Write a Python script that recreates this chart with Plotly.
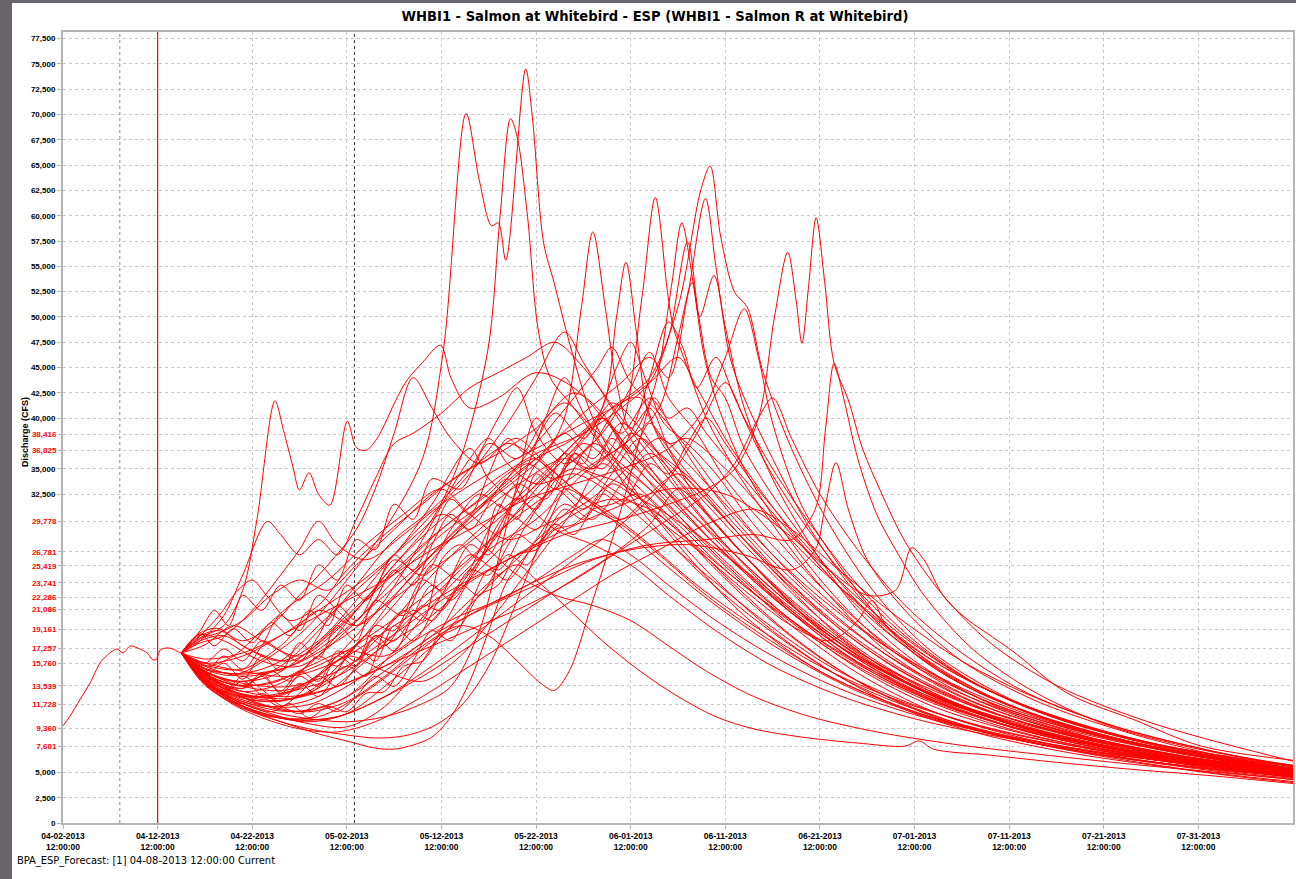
import pandas as pd
import plotly.graph_objects as go

# ---------------- data (day offsets from 2013-04-02 12:00, discharge in CFS) ----------------
BASE_TIME = "2013-04-02 12:00"

OBS_DAYS = [0.0, 0.7, 1.8, 2.9, 3.9, 4.7, 5.7, 6.35, 7.1, 8.1, 8.9, 9.4, 9.8, 10.3, 11.0, 11.6, 12.2, 12.5]
OBS_CFS = [9600, 10500, 12200, 13900, 15800, 16600, 17200, 16800, 17500, 17200, 16800, 16200, 16100, 17100, 17300, 17200, 16900, 16800]

ESP_01 = [(12.5,16800),(15,15200),(18,14600),(22,16500),(26,19500),(30,24000),(34,29000),(38,36000),(40.2,46700),(42.6,70100),(44,63500),(45.3,59000),(46,59300),(46.8,55600),(48.9,74500),(49.6,69800),(50.8,57300),(51.9,53400),(53.6,47200),(56,40000),(60,33500),(65,27500),(72,20500),(80,15000),(90,11000),(100,8400),(110,6700),(120,5500),(130,4600)]
ESP_02 = [(12.5,16800),(15,14500),(19,13000),(23,13800),(27,16500),(31,21000),(35,25500),(39,30000),(42,36000),(44.9,46700),(46.2,60000),(47.3,69600),(48,67800),(49.1,59900),(50.2,48900),(51.5,44000),(54,41000),(57,37000),(61,31000),(67,25000),(74,19500),(83,14000),(93,10300),(103,8000),(115,6300),(130,4900)]
ESP_03 = [(12.5,16800),(15,14800),(19,12600),(24,12200),(29,14500),(34,19000),(39,24500),(44,29000),(49,33000),(54,37500),(58,41000),(62,44000),(65,51000),(67.4,62500),(68.4,64900),(69.5,58000),(71,52400),(72.3,51000),(74,44500),(77,37000),(81,29500),(86,22500),(92,16800),(100,12300),(110,9000),(120,7000),(130,5600)]
ESP_04 = [(12.5,16800),(14.5,18600),(17,18000),(21,16000),(25,15500),(30,19000),(35,24000),(40,28500),(45,32000),(50,36000),(55,40500),(59,43500),(62,46000),(64,44000),(66,52000),(67.9,61700),(69,55000),(70.5,46000),(72,42000),(75,36000),(79,29000),(84,22500),(90,17000),(98,12500),(108,9000),(118,6900),(130,5300)]
ESP_05 = [(12.5,16800),(16,14200),(20,12000),(25,11000),(30,12500),(35,17000),(40,22500),(45,27000),(50,30000),(55,34500),(60,38000),(63,41000),(65,48000),(66.5,53400),(67.3,50000),(68.8,54100),(70,49000),(72,41000),(75,34000),(79,27500),(84,21000),(90,16000),(98,11800),(108,8600),(118,6600),(130,5100)]
ESP_06 = [(12.5,16800),(15,15500),(19,14500),(24,15500),(29,18500),(34,22500),(39,26500),(44,30500),(49,34000),(53,36000),(56,35000),(59,39000),(61.2,52000),(62.6,61800),(63.9,52400),(64.5,49000),(66,45000),(68,40000),(71,35000),(75,29500),(80,23500),(87,17000),(95,12500),(105,9200),(117,6800),(130,5200)]
ESP_07 = [(12.5,16800),(15,14000),(18,12300),(22,11500),(27,12500),(32,16000),(37,20500),(42,25000),(47,29500),(52,33000),(56,35500),(60,38000),(62.5,43000),(64.3,53000),(65.4,59300),(66.5,54000),(67.8,46000),(69.5,40500),(72,35000),(76,29000),(81,23000),(87,17500),(95,12800),(105,9300),(117,6800),(130,5200)]
ESP_08 = [(12.5,16800),(15,17600),(18,19500),(21,18000),(25,16500),(30,20000),(35,25500),(40,30000),(45,33500),(50,36500),(55,38500),(59,41000),(62,43500),(64,48000),(66,57400),(67.2,50000),(68.5,44000),(70,42000),(72,37000),(76,31000),(81,25000),(87,19000),(94,14200),(104,10200),(116,7400),(130,5600)]
ESP_09 = [(12.5,16800),(15,15000),(19,13500),(24,13200),(29,16000),(34,20500),(39,26000),(44,31000),(48,34000),(51,36500),(53,40000),(54.8,51000),(56,58400),(57.3,51000),(58.5,43500),(60,39000),(62,41000),(64,37000),(67,32000),(71,27500),(76,22500),(82,17500),(90,13000),(100,9500),(112,7000),(130,4900)]
ESP_10 = [(12.5,16800),(15,14300),(18,12600),(22,12000),(26,13000),(31,17500),(36,23500),(41,28500),(46,33000),(50,36000),(54,38000),(57,41000),(58.5,50000),(59.5,55400),(60.6,48500),(62,40000),(64,37000),(67,33500),(71,29000),(76,24000),(82,18500),(90,13500),(100,9800),(112,7200),(130,5000)]
ESP_11 = [(12.5,16800),(15,15800),(19,15000),(24,14500),(29,16000),(35,19500),(41,23000),(47,26000),(53,28500),(59,30000),(64,31500),(68,33000),(71,35000),(73.5,40000),(75.2,50000),(76.6,56400),(77.5,51500),(78.1,47400),(78.8,53000),(79.6,59800),(80.5,53500),(81.5,45400),(83,41800),(84.5,37000),(86.5,32600),(89,27800),(93,22500),(98,17800),(105,13600),(115,9900),(130,6100)]
ESP_12 = [(12.5,16800),(15,14000),(19,12000),(24,11000),(29,12000),(34,15000),(39,18500),(44,21000),(50,23500),(56,26000),(62,27500),(68,28000),(73,28500),(77,28000),(79.5,31000),(80.6,39000),(81.5,45400),(82.5,42000),(84,36000),(86,30500),(88,27000),(91,22500),(96,17300),(102,13300),(110,9800),(120,7300),(130,5700)]
ESP_13 = [(12.5,16800),(15,13800),(18,11800),(22,10500),(27,10500),(32,13000),(37,16500),(42,20000),(48,23000),(54,25500),(60,27000),(66,27500),(72,26500),(77,25000),(79.5,27000),(80.5,31000),(81.7,35600),(83,31000),(85,26000),(89,21000),(95,16000),(103,12000),(113,8800),(122,6700),(130,5400)]
ESP_14 = [(12.5,16800),(15,16200),(19,16800),(24,19000),(29,21500),(34,24000),(39,27000),(44,29500),(49,32000),(54,33500),(59,35000),(64,37000),(67.5,40500),(70,46000),(72,50800),(73.5,46000),(75,39500),(78,31500),(82,25500),(87,19500),(94,14300),(103,10600),(115,7600),(130,5300)]
ESP_15 = [(12.5,16800),(15,15000),(19,13800),(24,13500),(29,15000),(34,18000),(40,22000),(46,25500),(52,28500),(58,31000),(64,33000),(70,32500),(76,29000),(81,25000),(85,22500),(88,23000),(89.7,27200),(91,26000),(93,22500),(95.2,20400),(100.2,17100),(106.2,12800),(113.2,10200),(120.3,7600),(130,6200)]
ESP_16 = [(12.5,16800),(14.5,18300),(17,19500),(19,23000),(20.5,30000),(22.4,41700),(23.3,38800),(24.3,35200),(25,32900),(26,34600),(27,32500),(28.2,31400),(30.05,39700),(31,37100),(32,36800),(33.2,38000),(35.3,42000),(36.4,43800),(38,45500),(39.9,47200),(41,44000),(43,41000),(46,42000),(50,44500),(54,43000),(58,39000),(63,33500),(69,27500),(76,21500),(85,15800),(95,11600),(107,8500),(119,6400),(130,5000)]
ESP_17 = [(12.5,16800),(14.5,18000),(17,20500),(19,24500),(21.6,29800),(23,28500),(25,26500),(27,28000),(29,26500),(31,30000),(33,34000),(35,37500),(37,38500),(40,40500),(43,43000),(46,44500),(49,46000),(52,47500),(55,45000),(59,40000),(64,34000),(70,27500),(77,21500),(86,15800),(96,11600),(108,8400),(120,6300),(130,5000)]
ESP_18 = [(12.5,16800),(15,14200),(18,12200),(22,10800),(26,9800),(30,9500),(34,11500),(38,16000),(42,22500),(46,29000),(49,35000),(51,40000),(53,44000),(55,40500),(58,36000),(62,33000),(66,29500),(71,25000),(77,20000),(84,15300),(92,11500),(102,8700),(114,6600),(130,4800)]
ESP_19 = [(12.5,16800),(15,15600),(19,15200),(23,17500),(27,21000),(31,19500),(35,22500),(40,27500),(45,32000),(50,37500),(54,42000),(56.5,45000),(58,47000),(60,43500),(63,40500),(66,37000),(70,32000),(75,26500),(81,21000),(88,16000),(96,12000),(106,9000),(118,6700),(130,5100)]
ESP_20 = [(12.5,16800),(15,13900),(19,12500),(24,13000),(29,14500),(34,17500),(39,20500),(44,25000),(49,30000),(53,35000),(57,38500),(60,43000),(62,46500),(64,42000),(67,38500),(70,34000),(75,28500),(81,22500),(88,17000),(96,12700),(106,9400),(118,6900),(130,5200)]
ESP_21 = [(12.5,16800),(14.5,18800),(16.5,19200),(19,17500),(23,16000),(27,18000),(31,22000),(35,26500),(39,30500),(43,34500),(47,39500),(50,44000),(53,48500),(55,45500),(58,41000),(61,36500),(65,31500),(70,26500),(76,21500),(83,16500),(91,12500),(101,9300),(113,7000),(130,5000)]
ESP_22 = [(12.5,16800),(15,15000),(19,14000),(23,15500),(27,19000),(31,23500),(35,28000),(39,31000),(43,35000),(46,40000),(48,43000),(50,38500),(53,35500),(56,37500),(59,41500),(61,42000),(63,38000),(66,34000),(70,30000),(75,25000),(81,20000),(88,15300),(96,11600),(106,8800),(118,6600),(130,4900)]
ESP_23 = [(12.5,16800),(15,14500),(18,13000),(22,12500),(26,14000),(30,17500),(34,22000),(38,28000),(41,33000),(43,36000),(45,38000),(47,35500),(50,33500),(54,34500),(58,32500),(63,28500),(68,24500),(74,20000),(81,15500),(89,12000),(98,9300),(108,7400),(119,5800),(130,4600)]
ESP_24 = [(12.5,16800),(15,14400),(18,12800),(22,11500),(26,11000),(30,12000),(34,14500),(38,17500),(42,19500),(45,18500),(48,16000),(50.5,13800),(51.9,13100),(53.5,15000),(56,22000),(59,31000),(61,38000),(62.5,42000),(64,39500),(67,35000),(71,30000),(76,25000),(82,20000),(89,15500),(97,12000),(107,9000),(119,6700),(130,5200)]
ESP_25 = [(12.5,16800),(15,14000),(18,12000),(21,10700),(24,9700),(27,8800),(30,8100),(33,7400),(35,7300),(37,7700),(39,8500),(41,10500),(43,14000),(45,19000),(47,24000),(50,27500),(54,30500),(58,32000),(62,31000),(66,28000),(71,23500),(77,18500),(84,14000),(92,10500),(101,8200),(112,6400),(122,5100),(130,4300)]
ESP_26 = [(12.5,16800),(15,13800),(18,11800),(22,10300),(26,9300),(30,8700),(33,8400),(36,8600),(39,9500),(42,11500),(45,15500),(48,22000),(51,29000),(54,35000),(56,37500),(59,35500),(62,33000),(66,29000),(71,24500),(77,19500),(84,14800),(92,11000),(101,8500),(112,6500),(122,5200),(130,4400)]
ESP_27 = [(12.5,16800),(15,14500),(19,13000),(24,12500),(29,13500),(34,15500),(39,18500),(43,22000),(46,24500),(48,25500),(50,24000),(53,21500),(57,18000),(61,15000),(65,12500),(69,10500),(73,9300),(78,8500),(84,7900),(89,7600),(90.5,8100),(92,7300),(98,6700),(105,6000),(113,5300),(121,4700),(130,3900)]
ESP_28 = [(12.5,16800),(15,15800),(19,16500),(23,18500),(27,21000),(31,23500),(35,26500),(38,29000),(40,30500),(42,29500),(45,27000),(48,24500),(52,22500),(56,21500),(60,20000),(64,17500),(68,15000),(73,12500),(79,10500),(86,9000),(94,7800),(103,6800),(113,5800),(122,5000),(130,4300)]
ESP_29 = [(12.5,16800),(15,14200),(18,12700),(22,12000),(26,12800),(30,15500),(32,14500),(34,19000),(36,21000),(38,20000),(40,26000),(42,27500),(44,26000),(46,31500),(48,30000),(50,34500),(52,33000),(54,36500),(56,35000),(58,38000),(60,36500),(62,39500),(64,37500),(66,38000),(70,35000),(74,31000),(79,26000),(85,21000),(92,16000),(100,12200),(110,9100),(120,6900),(130,5300)]
ESP_30 = [(12.5,16800),(15,13600),(19,11500),(24,10200),(29,10500),(34,12500),(39,15500),(44,19000),(49,22500),(54,26000),(59,29500),(64,34000),(67,38500),(70,43500),(72,40000),(75,35000),(79,29500),(84,23500),(90,18000),(97,13500),(106,10000),(117,7400),(130,5400)]
ESP_31 = [(12.5,16800),(15,14800),(18,13700),(22,13800),(26,15500),(30,17000),(34,16500),(38,19000),(42,23500),(46,28500),(50,33000),(54,37000),(57,40000),(59,37500),(62,35000),(66,31000),(71,26500),(77,21500),(84,16500),(92,12500),(101,9500),(112,7100),(122,5700),(130,4700)]
ESP_32 = [(12.5,16800),(14.5,18000),(17,18500),(20,17000),(24,16000),(28,18500),(32,22000),(36,25500),(40,29000),(44,32000),(47,34500),(50,36000),(52,34000),(55,31500),(59,29500),(63,26500),(68,22500),(74,18500),(81,14500),(89,11300),(98,8900),(108,7000),(119,5600),(130,4600)]
ESP_33 = [(12.5,16800),(15,13900),(18,12000),(21,10900),(25,10200),(29,10500),(33,12000),(38,14500),(43,17500),(48,20500),(53,23500),(58,26500),(62,29500),(65,33000),(67,31500),(70,28500),(74,24500),(79,20000),(85,16000),(92,12500),(100,9800),(110,7500),(120,5800),(130,4500)]
ESP_34 = [(12.5,16800),(14.5,18500),(16.5,19000),(19,18000),(22,19500),(25,22500),(28,25500),(31,29000),(33,33000),(35,38500),(37,44000),(39,41000),(41,38000),(44,35500),(47,37500),(50,36000),(54,33000),(58,30000),(63,26000),(69,21500),(76,17000),(84,13000),(93,10000),(103,7800),(115,6000),(130,4600)]
ESP_35 = [(12.5,16800),(15,15200),(19,14800),(23,16000),(27,19500),(31,23000),(35,26500),(39,31500),(43,37000),(45,34000),(48,32000),(51,34500),(54,37500),(57,40000),(60,36500),(63,33500),(67,30000),(72,25000),(78,20000),(85,15200),(93,11600),(103,8900),(115,6700),(130,5000)]
ESP_36 = [(12.5,16800),(15,14600),(19,13300),(21,14500),(23,13000),(25,15000),(27,14000),(29,17000),(31,16000),(33,19500),(35,19000),(38,24000),(40,23000),(43,27500),(45,26500),(48,32000),(50,31000),(53,36500),(55,35500),(57,40000),(59,38500),(62,42000),(64,40000),(66,41000),(68,38500),(72,34000),(77,28500),(83,22500),(90,17200),(98,13000),(108,9600),(119,7100),(130,5400)]
ESP_37 = [(12.5,16800),(14.5,18200),(16.5,18800),(19,20000),(22,22500),(25,24000),(28,23000),(31,25500),(35,29000),(39,32500),(43,35000),(46,37000),(48,38000),(51,35500),(54,33000),(58,30500),(62,27500),(67,23500),(73,19500),(80,15500),(88,12200),(97,9600),(107,7600),(118,6000),(130,4700)]
ESP_38 = [(12.5,16800),(15,14000),(18,12000),(22,10600),(26,10000),(30,10800),(34,13500),(39,17500),(44,22500),(49,27000),(53,30500),(57,34000),(60,38500),(62,44000),(64,49500),(65.5,47000),(67,43000),(69,46000),(71,42000),(74,36000),(78,30000),(83,24000),(89,18500),(96,14000),(105,10400),(116,7700),(130,5700)]
ESP_39 = [(12.5,16800),(15,15300),(19,14700),(24,15500),(29,18000),(34,21500),(39,25000),(44,28500),(49,32500),(53,36000),(56,39000),(58.5,45000),(60,47500),(61.5,44000),(63.5,39500),(66,37500),(69,34500),(73,29500),(78,24500),(84,19500),(91,15000),(99,11500),(109,8700),(120,6600),(130,5200)]
ESP_40 = [(12.5,16800),(15,14700),(19,13600),(22,15000),(24,14000),(27,16500),(29,15500),(32,18500),(34,17500),(37,21000),(39,20000),(42,23500),(44,22500),(47,26500),(49,25500),(52,29500),(54,28500),(57,32500),(59,31500),(62,35500),(64,34500),(66,37500),(68,40000),(70,37500),(73,33500),(77,29000),(82,24000),(88,19000),(95,14500),(103,11000),(113,8200),(122,6400),(130,5200)]
ESP_41 = [(12.5,16800),(15,14900),(18,14000),(22,14500),(26,17000),(30,20500),(34,24000),(38,27500),(42,30500),(45,32500),(47,34000),(49,31500),(52,29000),(56,27500),(60,25500),(64,22500),(69,19000),(75,15500),(82,12600),(90,10300),(99,8500),(109,7000),(120,5700),(130,4700)]
ESP_42 = [(12.5,16800),(15,15500),(18,16500),(21,19000),(24,21500),(28,24000),(32,27500),(36,30500),(40,33000),(43,30500),(47,28000),(51,29500),(55,31500),(59,34500),(63,38000),(66,35500),(70,31500),(75,26500),(81,21500),(88,16800),(96,12900),(105,9800),(116,7300),(130,5300)]
ESP_43 = [(12.5,16800),(15,13700),(18,11700),(21,10400),(25,9300),(29,9000),(33,10000),(38,12500),(43,15500),(48,18500),(53,21500),(58,24500),(63,27000),(68,29500),(73,31000),(77,29000),(82,25000),(88,20500),(95,16000),(103,12300),(112,9300),(121,7200),(130,5600)]
ESP_44 = [(12.5,16800),(15,14300),(19,12700),(24,12300),(29,13500),(34,15500),(39,17500),(44,19500),(49,21500),(54,24000),(59,27000),(64,30000),(68,32500),(71,35500),(73.5,40000),(75,42000),(77,38000),(80,32500),(84,27000),(89,21500),(95,16800),(102,12800),(111,9600),(121,7200),(130,5500)]
ESP_45 = [(12.5,16800),(15,14100),(18,12500),(22,11500),(26,11700),(30,13500),(34,16000),(38,18500),(42,20500),(46,22000),(50,24000),(54,26500),(57,28000),(60,26500),(64,23500),(69,20000),(75,16500),(82,13300),(90,10700),(99,8700),(109,7100),(119,5800),(130,4700)]
ESP_46 = [(12.5,16800),(14.5,18500),(16.5,20500),(18.5,23000),(20,24000),(21.5,22500),(24,20000),(27,21500),(30,25000),(34,28500),(38,31500),(42,34500),(46,36500),(50,39000),(53,41500),(56,39000),(60,35500),(64,32000),(69,27500),(75,22500),(82,17500),(90,13400),(99,10200),(109,7900),(120,6100),(130,4900)]
ESP_47 = [(12.5,16800),(15,14600),(19,13300),(21,14800),(23,12800),(25,14500),(27,13500),(29,16500),(31,15500),(33,18500),(35,18000),(38,21500),(40,21000),(43,25000),(45,24500),(48,28500),(50,27500),(53,31000),(55,30000),(58,33500),(60,32500),(63,31000),(67,28500),(72,25000),(78,20500),(85,16000),(93,12300),(102,9500),(112,7300),(122,5900),(130,4900)]
ESP_48 = [(12.5,16800),(14.5,17800),(17,18500),(20,21000),(23,24500),(25,27000),(27,29800),(29,27500),(32,26000),(36,28500),(40,31500),(45,34500),(50,37000),(55,39500),(59,41500),(62,43500),(65,46000),(67,43000),(70,38000),(74,32500),(79,26500),(85,20500),(92,15500),(100,11700),(110,8700),(120,6600),(130,5100)]
ESP_49 = [(12.5,16800),(15,13900),(18,12200),(22,11000),(26,10300),(30,10000),(34,10500),(38,11800),(41,13500),(44,19000),(46,26000),(48,33500),(50,40000),(52,37500),(55,35000),(59,33500),(63,30500),(68,26500),(74,22000),(81,17500),(89,13500),(98,10400),(108,8000),(119,6200),(130,4800)]
ESP_50 = [(12.5,16800),(15,14700),(19,13500),(24,14500),(29,16500),(34,19500),(39,23000),(44,27000),(49,31500),(54,35000),(58,33000),(62,30500),(67,27000),(72,23000),(77,19500),(81,18000),(84,20000),(85.5,22000),(87,19500),(91,16000),(97,12800),(105,10000),(115,7600),(130,5300)]
ESP_51 = [(12.5,16800),(15,14000),(18,12200),(22,11000),(24,11800),(26,10400),(28,11500),(30,11000),(32,12800),(34,13000),(36,15500),(38,16000),(40,18500),(42,19500),(44,22500),(46,23500),(48,26500),(50,27000),(52,29000),(54,29500),(56,31000),(58,31500),(61,32500),(64,30000),(68,26000),(73,21500),(79,17000),(86,13000),(94,10000),(103,7800),(113,6100),(122,4900),(130,4100)]
ESP_52 = [(12.5,16800),(15,14300),(18,12900),(22,12400),(26,13800),(30,16500),(34,15000),(38,14000),(42,16500),(46,21000),(50,26000),(54,31000),(57,35500),(60,33000),(64,29000),(69,24000),(75,19000),(82,14500),(89,11200),(97,8800),(106,7000),(116,5600),(124,4600),(130,4000)]
ESP_53 = [(12.5,16800),(14.5,18700),(16,17500),(18,19200),(20,17800),(22,19800),(24,18500),(26,21000),(28,19500),(30,23500),(32,22000),(35,26000),(38,24500),(41,29000),(44,32500),(47,31000),(50,35500),(53,38500),(56,36000),(59,39500),(62,37000),(66,32000),(71,26500),(77,21000),(84,16200),(92,12300),(101,9300),(111,7100),(121,5600),(130,4600)]
ESP_54 = [(12.5,16800),(15,14600),(17,15800),(19,14200),(21,16500),(23,15000),(25,17800),(27,16200),(29,19500),(31,18000),(33,22000),(36,20500),(39,25500),(42,24000),(45,29000),(48,33500),(51,32000),(54,36500),(57,35000),(60,38500),(63,36500),(67,33500),(71,29500),(76,24500),(82,19500),(89,15000),(97,11400),(106,8700),(117,6600),(130,4900)]
ESP_55 = [(12.5,16800),(15,13800),(17,13000),(19,14500),(21,13200),(23,12000),(25,13800),(27,12500),(29,15000),(31,17500),(33,16000),(35,19500),(37,18000),(40,22500),(43,26500),(46,25000),(49,29500),(52,33000),(55,31000),(58,34500),(61,38000),(64,35500),(68,31500),(73,26500),(79,21000),(86,16000),(94,12000),(103,9000),(114,6800),(130,4700)]
ESP_56 = [(12.5,16800),(14.5,19000),(16,21000),(17.5,19500),(19,22500),(21,21000),(23,23500),(25,22000),(27,25500),(29,24000),(31,28000),(33,27000),(35,31500),(37,30000),(39,34000),(42,33000),(45,37500),(48,36000),(51,40000),(54,42500),(57,40500),(60,36000),(64,31500),(69,26500),(75,21500),(82,16800),(90,12800),(99,9800),(109,7500),(120,5800),(130,4600)]
ESP_57 = [(12.5,16800),(15,14200),(17,12900),(19,14000),(21,12600),(23,11500),(25,12800),(27,14500),(29,13500),(31,15500),(33,18500),(35,17000),(37,20500),(39,23500),(41,22000),(44,26000),(47,30500),(50,29000),(53,33000),(56,31500),(59,30000),(62,32500),(65,34500),(68,32000),(72,28000),(77,23500),(83,18500),(90,14300),(98,11000),(108,8300),(119,6300),(130,4800)]
ESP_58 = [(12.5,16800),(15,15800),(17,17200),(19,16000),(21,18000),(23,17000),(25,16000),(27,18500),(29,21500),(31,20000),(33,23000),(35,26500),(37,25000),(39,28500),(41,32000),(43,30500),(45,34500),(47,38000),(49,36500),(52,40500),(55,38000),(58,41500),(61,39000),(64,35000),(68,30500),(73,25500),(79,20500),(86,15800),(94,12000),(103,9100),(114,6900),(130,4900)]
ESP_59 = [(12.5,16800),(15,14000),(17,12500),(19,11800),(21,12800),(23,11600),(25,10800),(27,11800),(29,11000),(31,12500),(33,14500),(35,13500),(37,16000),(39,19000),(41,18000),(43,21500),(45,25000),(47,24000),(50,28000),(53,31500),(56,30000),(59,33500),(62,36500),(65,34000),(69,29500),(74,24500),(80,19500),(87,15000),(95,11500),(104,8800),(115,6700),(130,4600)]
ESP_60 = [(12.5,16800),(15,15000),(17,16500),(19,15200),(21,17500),(23,20500),(25,19000),(27,22500),(29,21000),(31,19500),(33,22000),(35,25000),(37,23500),(39,27500),(41,30500),(43,29000),(46,33000),(49,35500),(52,34000),(55,37500),(58,35500),(61,33000),(65,29500),(70,25000),(76,20500),(83,16000),(91,12200),(100,9300),(110,7100),(120,5600),(130,4500)]

ESP_TRACES = [ESP_01, ESP_02, ESP_03, ESP_04, ESP_05, ESP_06, ESP_07, ESP_08, ESP_09, ESP_10,
              ESP_11, ESP_12, ESP_13, ESP_14, ESP_15, ESP_16, ESP_17, ESP_18, ESP_19, ESP_20,
              ESP_21, ESP_22, ESP_23, ESP_24, ESP_25, ESP_26, ESP_27, ESP_28, ESP_29, ESP_30,
              ESP_31, ESP_32, ESP_33, ESP_34, ESP_35, ESP_36, ESP_37, ESP_38, ESP_39, ESP_40,
              ESP_41, ESP_42, ESP_43, ESP_44, ESP_45, ESP_46, ESP_47, ESP_48, ESP_49, ESP_50,
              ESP_51, ESP_52, ESP_53, ESP_54, ESP_55, ESP_56, ESP_57, ESP_58, ESP_59, ESP_60]

X_TICK_DAYS = [0, 10, 20, 30, 40, 50, 60, 70, 80, 90, 100, 110, 120]
X_TICK_LABELS = ["04-02-2013", "04-12-2013", "04-22-2013", "05-02-2013", "05-12-2013", "05-22-2013",
                 "06-01-2013", "06-11-2013", "06-21-2013", "07-01-2013", "07-11-2013", "07-21-2013",
                 "07-31-2013"]
X_RANGE_DAYS = [0, 130]

Y_BLACK_TICKS = [0, 2500, 5000, 32500, 35000, 40000, 42500, 45000, 47500, 50000, 52500, 55000,
                 57500, 60000, 62500, 65000, 67500, 70000, 72500, 75000, 77500]
Y_RED_TICKS = [7601, 9360, 11728, 13539, 15760, 17257, 19161, 21086, 22286, 23741, 25419, 26781,
               29778, 36825, 38416]
Y_RANGE = [0, 78150]

FORECAST_DAY = 6.0      # 04-08-2013 12:00 (gray dotted)
RED_MARK_DAY = 10.0     # 04-12-2013 12:00 (red solid)
BLACK_MARK_DAY = 30.8   # early 05-03-2013 (black dotted)

TITLE = "WHBI1 - Salmon at Whitebird - ESP (WHBI1 - Salmon R at Whitebird)"
FOOTER = "BPA_ESP_Forecast: [1] 04-08-2013 12:00:00 Current"
Y_TITLE = "Discharge (CFS)"

# ---------------- figure ----------------
base = pd.Timestamp(BASE_TIME)


def to_time(days):
    return [base + pd.Timedelta(days=d) for d in days]


COND = "DejaVu Sans Condensed, DejaVu Sans, sans-serif"
TICKF = "Liberation Sans, Arial, sans-serif"
RED = "#ff0000"
GRID = "#c8c8c8"
FRAME = "#b4b4b4"

fig = go.Figure()

for i, tr in enumerate(ESP_TRACES):
    days = [p[0] for p in tr]
    cfs = [p[1] for p in tr]
    fig.add_trace(go.Scatter(x=to_time(days), y=cfs, mode="lines", name=f"ESP {i + 1}",
                             line=dict(color=RED, width=1, shape="spline", smoothing=0.9),
                             hoverinfo="skip", showlegend=False))

fig.add_trace(go.Scatter(x=to_time(OBS_DAYS), y=OBS_CFS, mode="lines", name="Observed",
                         line=dict(color=RED, width=1, shape="spline", smoothing=0.8),
                         hoverinfo="skip", showlegend=False))

W, H = 1296, 879
L, R, T, B = 63, 3, 32, 56
pw, ph = W - L - R, H - T - B


def px_x(p):
    return (p - L) / pw


def px_y(p):
    return (H - B - p) / ph


def vline(day, color, width, dash):
    t = to_time([day])[0]
    return dict(type="line", xref="x", yref="paper", x0=t, x1=t, y0=0, y1=1,
                line=dict(color=color, width=width, dash=dash))


shapes = [
    # gray window strips (left and top)
    dict(type="rect", xref="paper", yref="paper", x0=px_x(0), x1=px_x(12), y0=px_y(H), y1=px_y(0),
         fillcolor="#67646b", line_width=0, layer="above"),
    dict(type="rect", xref="paper", yref="paper", x0=px_x(0), x1=px_x(W), y0=px_y(3), y1=px_y(0),
         fillcolor="#67646b", line_width=0, layer="above"),
    vline(FORECAST_DAY, "#b0b0b0", 1.5, "dot"),
    vline(RED_MARK_DAY, RED, 1.2, "solid"),
    vline(BLACK_MARK_DAY, "#333333", 1, "dot"),
]

tick_font = dict(family=TICKF, size=8, color="black", weight="bold")

fig.update_layout(
    width=W, height=H,
    margin=dict(l=L, r=R, t=T, b=B, autoexpand=False),
    paper_bgcolor="white", plot_bgcolor="white",
    showlegend=False,
    title=dict(text=TITLE, x=655 / W, xref="container", xanchor="center",
               y=1 - 16 / H, yref="container", yanchor="middle",
               font=dict(family=COND, size=14.6, color="black", weight="bold")),
    xaxis=dict(type="date", range=to_time(X_RANGE_DAYS),
               tickvals=to_time(X_TICK_DAYS),
               ticktext=[f"{t}<br>12:00:00" for t in X_TICK_LABELS],
               tickfont=dict(family=TICKF, size=8.5, color="black", weight="bold"),
               ticks="outside", ticklen=4, tickcolor=FRAME,
               showgrid=True, gridcolor=GRID, griddash="dot", gridwidth=1,
               showline=True, linecolor=FRAME, linewidth=2, mirror=True, zeroline=False),
    yaxis=dict(range=Y_RANGE, tickvals=Y_BLACK_TICKS, tickformat=",d",
               tickfont=tick_font,
               ticks="outside", ticklen=4, tickcolor=FRAME,
               showgrid=True, gridcolor=GRID, griddash="dot", gridwidth=1,
               showline=True, linecolor=FRAME, linewidth=2, mirror=True, zeroline=False),
    yaxis2=dict(range=Y_RANGE, overlaying="y", side="left", tickvals=Y_RED_TICKS, tickformat=",d",
                tickfont=dict(family=TICKF, size=8, color=RED, weight="bold"),
                ticks="outside", ticklen=4, tickcolor=FRAME,
                showgrid=True, gridcolor=GRID, griddash="dot", gridwidth=1,
                showline=False, zeroline=False),
    shapes=shapes,
    annotations=[
        dict(text=Y_TITLE, xref="paper", yref="paper", x=px_x(25), y=px_y(432), textangle=-90,
             showarrow=False, xanchor="center", yanchor="middle",
             font=dict(family=TICKF, size=9, color="black", weight="bold")),
        dict(text=FOOTER, xref="paper", yref="paper", x=px_x(15), y=px_y(860),
             showarrow=False, xanchor="left", yanchor="middle",
             font=dict(family=COND, size=11, color="black")),
    ],
)

# invisible point so that the overlay axis carrying the red ticks is drawn
fig.add_trace(go.Scatter(x=to_time([0]), y=[0], yaxis="y2", mode="markers",
                         marker=dict(opacity=0), hoverinfo="skip", showlegend=False))

fig.write_html("out.html",
               config={"displayModeBar": False},
               post_script="document.body.style.margin='0px';document.body.style.padding='0px';"
                           "document.body.style.overflow='hidden';")
